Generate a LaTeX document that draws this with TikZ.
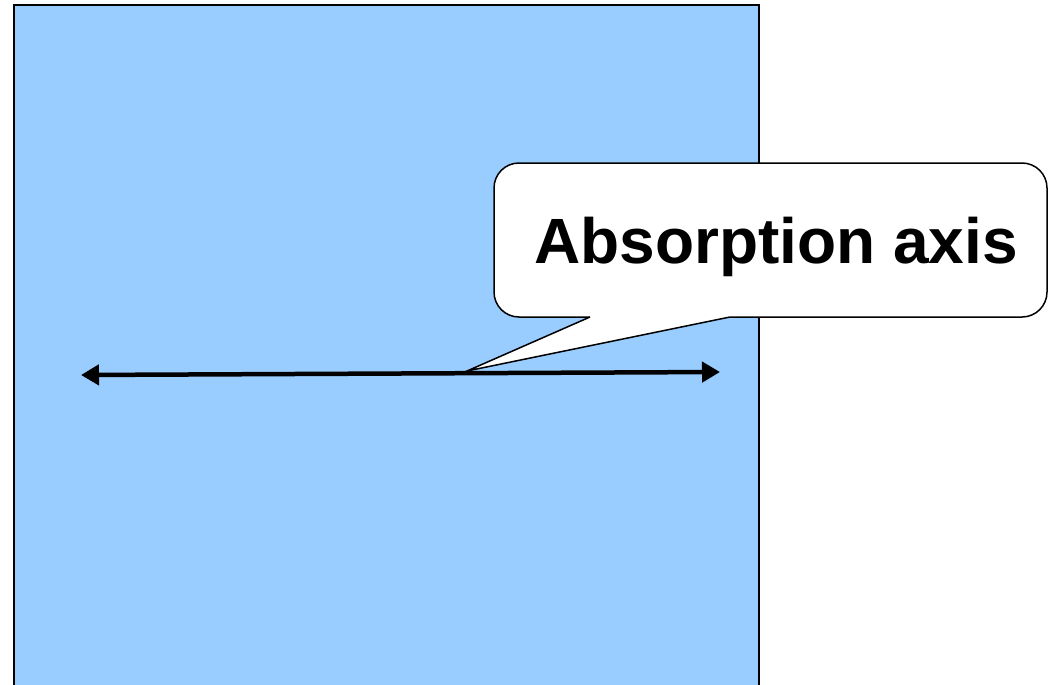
\documentclass[tikz,border=0pt]{standalone}
\usepackage{fontspec}
\setmainfont{Liberation Sans}
\usetikzlibrary{arrows.meta}
\definecolor{panel}{HTML}{99CCFF}
\tikzset{
  panelbox/.style={draw=black, fill=panel, line width=2pt},
  axisarrow/.style={line width=4.5pt, {Triangle[length=18pt,width=20pt]}-{Triangle[length=18pt,width=20pt]}},
  calloutbox/.style={draw=black, fill=white, line width=1.5pt, rounded corners=25pt, minimum width=553pt, minimum height=154pt, inner sep=0pt},
  callouttext/.style={font=\fontsize{64}{64}\selectfont\bfseries, inner sep=0pt},
}
\begin{document}
\begin{tikzpicture}[x=1pt,y=-1pt]
\useasboundingbox (0,0) rectangle (1049,685);
\clip (0,0) rectangle (1049,685);
\draw[panelbox] (14,5) rectangle (759,720);
\coordinate (L) at (81,375);
\coordinate (R) at (720,372);
\draw[axisarrow] (L) -- (R);
\node[calloutbox] (box) at (770.5,240) {};
\coordinate (tip) at (467,371);
\coordinate (p1) at (590,317);
\coordinate (p2) at (730,317);
\fill[white] (tip) -- (p1) -- (590,315) -- (730,315) -- (p2) -- cycle;
\draw[line width=1.5pt, line join=miter] (p1) -- (tip) -- (p2);
\node[callouttext, anchor=base] (lbl) at (776,263) {Absorption axis};
\end{tikzpicture}
\end{document}
